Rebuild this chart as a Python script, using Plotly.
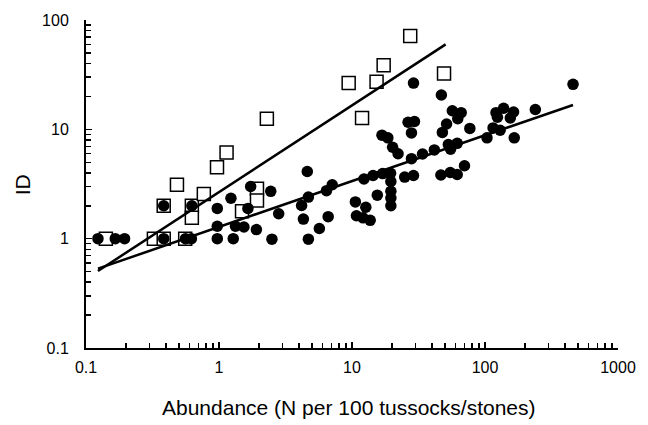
import plotly.graph_objects as go

# Open squares
sq_x = [0.141, 0.324, 0.384, 0.384, 0.557, 0.625, 0.625, 0.483, 0.769, 0.966, 1.14,
        1.49, 1.93, 1.93, 2.29, 9.44, 11.9, 15.3, 17.3, 27.4, 49.2]
sq_y = [1.0, 1.0, 2.0, 1.0, 1.0, 2.0, 1.55, 3.11, 2.56, 4.5, 6.15,
        1.78, 2.86, 2.23, 12.5, 26.5, 12.7, 27.3, 38.6, 71.3, 32.4]

# Filled circles
ci_x = [0.123, 0.166, 0.195, 0.384, 0.384, 0.56, 0.62, 0.625,
        0.971, 0.971, 0.971, 1.23, 1.33, 1.28, 1.54, 1.65, 1.73, 1.91,
        2.45, 2.81, 2.50, 4.61, 4.18, 4.70, 4.31, 4.70, 5.68, 6.62, 6.43, 7.10,
        10.6, 12.7, 10.8, 12.1, 13.7, 15.5, 12.3, 14.4, 17.0, 19.5, 19.6, 19.6, 19.6, 19.6,
        16.8, 18.6, 20.2, 22.2, 24.9, 29.0, 28.0, 33.9, 41.6, 53.0, 61.8, 55.1,
        26.4, 29.5, 28.0, 29.0, 47.0, 56.8, 66.2, 62.4, 51.4, 47.8, 76.9,
        46.6, 54.8, 61.8, 70.1, 103.5, 115, 130, 121, 124, 138, 164, 155, 166, 239, 459]
ci_y = [1.0, 1.0, 1.0, 2.0, 1.0, 1.0, 1.0, 2.0,
        1.89, 1.30, 1.0, 2.34, 1.30, 1.0, 1.28, 1.89, 3.0, 1.21,
        2.71, 1.69, 0.99, 4.11, 2.01, 2.40, 1.51, 0.99, 1.24, 1.59, 2.75, 3.11,
        2.17, 1.94, 1.62, 1.55, 1.47, 2.50, 3.51, 3.78, 3.94, 3.96, 3.33, 2.71, 2.35, 2.00,
        8.84, 8.36, 6.85, 5.98, 3.66, 3.78, 5.39, 5.95, 6.48, 7.26, 7.44, 6.57,
        11.6, 11.8, 9.27, 26.5, 20.6, 14.8, 14.2, 12.5, 11.2, 9.37, 10.2,
        3.82, 4.03, 3.86, 4.64, 8.36, 10.3, 9.82, 14.2, 12.9, 15.6, 14.4, 12.7, 8.36, 15.2, 25.8]

# Fitted power-law lines (end points)
fit_sq_x = [0.123, 50.6]
fit_sq_y = [0.506, 59.8]
fit_ci_x = [0.123, 459]
fit_ci_y = [0.532, 16.7]

x_ticks = [0.1, 1, 10, 100, 1000]
x_tick_text = ["0.1", "1", "10", "100", "1000"]
y_ticks = [0.1, 1, 10, 100]
y_tick_text = ["0.1", "1", "10", "100"]

FONT = "Liberation Sans, Arial, sans-serif"

fig = go.Figure()
fig.add_trace(go.Scatter(x=sq_x, y=sq_y, mode="markers",
                         marker=dict(symbol="square", size=13, color="white",
                                     line=dict(color="black", width=1.5))))
fig.add_trace(go.Scatter(x=fit_sq_x, y=fit_sq_y, mode="lines",
                         line=dict(color="black", width=2.5)))
fig.add_trace(go.Scatter(x=fit_ci_x, y=fit_ci_y, mode="lines",
                         line=dict(color="black", width=2.5)))
fig.add_trace(go.Scatter(x=ci_x, y=ci_y, mode="markers",
                         marker=dict(symbol="circle", size=11.5, color="black",
                                     line=dict(width=0))))

minor_x = [m * 10 ** e for e in range(-1, 3) for m in range(2, 10)]
minor_y = [m * 10 ** e for e in range(-1, 2) for m in range(2, 10)]

fig.update_layout(
    width=648, height=425, autosize=False,
    margin=dict(l=86, r=26, t=17, b=77),
    plot_bgcolor="white", paper_bgcolor="white",
    showlegend=False, hovermode=False,
    font=dict(family=FONT, size=16, color="black"),
    xaxis=dict(type="log", range=[-1, 3], tickmode="array",
               tickvals=x_ticks, ticktext=x_tick_text,
               tickfont=dict(family=FONT, size=16, color="black"),
               showline=True, linecolor="black", linewidth=2,
               ticks="inside", ticklen=6, tickwidth=1.5, tickcolor="black",
               showgrid=False, zeroline=False, ticklabelstandoff=4,
               minor=dict(tickvals=minor_x, ticks="inside", ticklen=5,
                          tickwidth=1.5, tickcolor="black", showgrid=False)),
    yaxis=dict(type="log", range=[-1, 2], tickmode="array",
               tickvals=y_ticks, ticktext=y_tick_text,
               tickfont=dict(family=FONT, size=16, color="black"),
               showline=True, linecolor="black", linewidth=2,
               ticks="inside", ticklen=6, tickwidth=1.5, tickcolor="black",
               showgrid=False, zeroline=False, ticklabelstandoff=12,
               minor=dict(tickvals=minor_y, ticks="inside", ticklen=5,
                          tickwidth=1.5, tickcolor="black", showgrid=False)),
    annotations=[
        dict(text="Abundance (N per 100 tussocks/stones)", xref="paper", yref="paper",
             x=0.494, y=-0.181, xanchor="center", yanchor="middle", showarrow=False,
             font=dict(family=FONT, size=21, color="black")),
        dict(text="ID", xref="paper", yref="paper", x=-0.119, y=0.498,
             xanchor="center", yanchor="middle", textangle=-90, showarrow=False,
             font=dict(family=FONT, size=21, color="black")),
    ],
)

fig.write_html("out.html", config={"displayModeBar": False, "staticPlot": True},
               post_script="document.body.style.margin='0';document.body.style.overflow='hidden';")
